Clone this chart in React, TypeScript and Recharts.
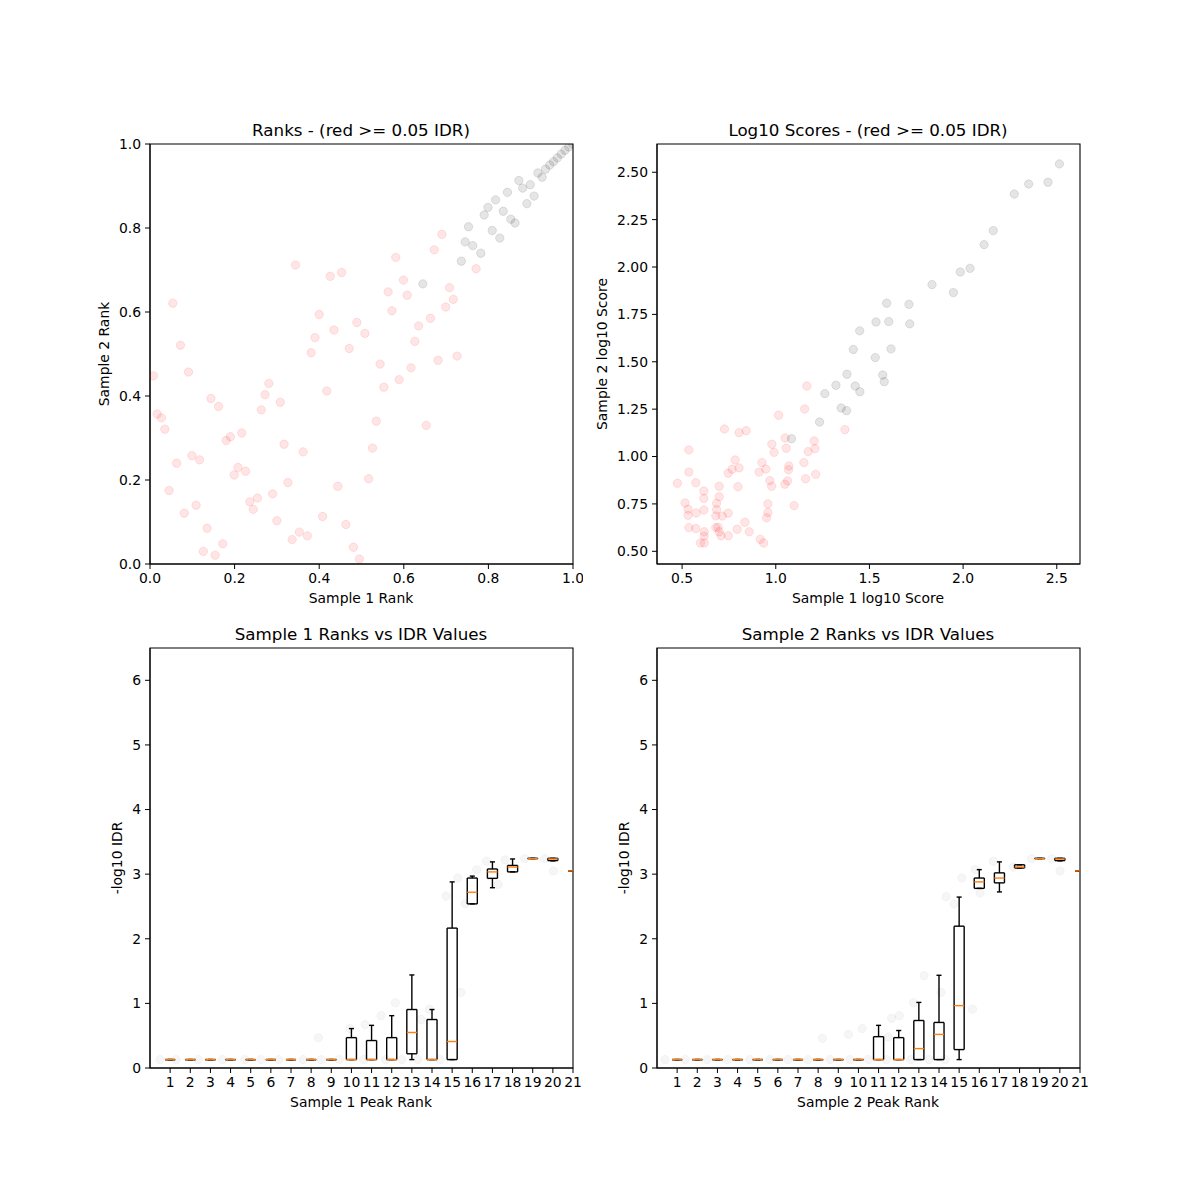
import React from 'react';
import { ComposedChart, Scatter, XAxis, YAxis, ReferenceLine, ReferenceArea } from 'recharts';

const FONT = '"DejaVu Sans", sans-serif';

// ---- top left: ranks ----
const rankTicks = [0, 0.2, 0.4, 0.6, 0.8, 1.0];
const rankRed: number[][] = [
  [0.008, 0.448], [0.017, 0.357], [0.027, 0.348], [0.035, 0.321], [0.045, 0.175], [0.054, 0.621],
  [0.063, 0.24], [0.072, 0.521], [0.081, 0.121], [0.091, 0.457], [0.099, 0.258], [0.109, 0.14],
  [0.117, 0.248], [0.126, 0.03], [0.135, 0.085], [0.144, 0.394], [0.154, 0.021], [0.162, 0.375],
  [0.172, 0.048], [0.18, 0.294], [0.19, 0.303], [0.199, 0.212], [0.208, 0.23], [0.217, 0.312],
  [0.226, 0.221], [0.236, 0.148], [0.244, 0.13], [0.254, 0.157], [0.263, 0.367], [0.272, 0.403],
  [0.281, 0.43], [0.29, 0.167], [0.3, 0.103], [0.308, 0.385], [0.317, 0.285], [0.326, 0.194],
  [0.336, 0.058], [0.344, 0.712], [0.353, 0.076], [0.362, 0.267], [0.372, 0.067], [0.381, 0.503],
  [0.39, 0.539], [0.4, 0.594], [0.408, 0.113], [0.418, 0.412], [0.426, 0.685], [0.435, 0.557],
  [0.444, 0.185], [0.453, 0.694], [0.463, 0.094], [0.471, 0.513], [0.481, 0.04], [0.489, 0.575],
  [0.495, 0.012], [0.508, 0.549], [0.517, 0.203], [0.526, 0.276], [0.535, 0.34], [0.544, 0.476],
  [0.553, 0.421], [0.563, 0.648], [0.572, 0.603], [0.581, 0.73], [0.589, 0.439], [0.599, 0.676],
  [0.608, 0.64], [0.617, 0.467], [0.626, 0.53], [0.635, 0.567], [0.653, 0.33], [0.663, 0.585],
  [0.672, 0.748], [0.681, 0.485], [0.69, 0.785], [0.699, 0.612], [0.708, 0.658], [0.717, 0.63],
  [0.726, 0.495], [0.771, 0.703],
];
const rankGrey: number[][] = [
  [0.645, 0.667], [0.736, 0.721], [0.745, 0.767], [0.753, 0.803], [0.763, 0.758], [0.782, 0.74],
  [0.79, 0.831], [0.799, 0.849], [0.809, 0.794], [0.817, 0.867], [0.827, 0.776], [0.835, 0.84],
  [0.845, 0.885], [0.853, 0.821], [0.863, 0.812], [0.872, 0.913], [0.881, 0.895], [0.891, 0.858],
  [0.899, 0.903], [0.908, 0.876], [0.917, 0.931], [0.927, 0.921], [0.935, 0.94], [0.945, 0.95],
  [0.954, 0.958], [0.963, 0.967], [0.972, 0.976], [0.981, 0.985], [0.99, 0.993], [0.999, 1.0],
];

// ---- top right: log10 scores ----
const scoreXDomain = [0.366, 2.624];
const scoreYDomain = [0.433, 2.649];
const scoreXTicks = [0.5, 1.0, 1.5, 2.0, 2.5];
const scoreYTicks = [0.5, 0.75, 1.0, 1.25, 1.5, 1.75, 2.0, 2.25, 2.5];
const scoreRed: number[][] = [
  [0.475, 0.859], [0.516, 0.755], [0.536, 1.035], [0.536, 0.918], [0.532, 0.722], [0.532, 0.69],
  [0.536, 0.625], [0.573, 0.862], [0.575, 0.702], [0.573, 0.62], [0.616, 0.818], [0.616, 0.779],
  [0.616, 0.718], [0.618, 0.603], [0.618, 0.58], [0.598, 0.544], [0.618, 0.544], [0.684, 0.753],
  [0.698, 0.843], [0.698, 0.788], [0.684, 0.72], [0.68, 0.687], [0.68, 0.625], [0.692, 0.627],
  [0.698, 0.603], [0.708, 0.582], [0.714, 0.686], [0.726, 1.145], [0.746, 0.912], [0.746, 0.701],
  [0.746, 0.582], [0.767, 0.933], [0.783, 0.982], [0.804, 0.94], [0.804, 1.126], [0.798, 0.841],
  [0.794, 0.616], [0.835, 0.653], [0.842, 1.136], [0.858, 0.603], [0.911, 0.918], [0.926, 0.968],
  [0.947, 0.934], [0.958, 0.75], [0.958, 0.705], [0.951, 0.677], [0.968, 0.873], [0.978, 0.843],
  [0.917, 0.563], [0.935, 0.544], [0.979, 1.065], [0.991, 1.022], [1.015, 1.218], [1.049, 0.854],
  [1.063, 0.871], [1.07, 0.95], [1.068, 0.93], [1.05, 1.098], [1.056, 1.044], [1.098, 0.741],
  [1.15, 0.968], [1.159, 0.883], [1.173, 1.026], [1.209, 1.042], [1.205, 1.082], [1.213, 0.906],
  [1.154, 1.251], [1.166, 1.372], [1.369, 1.142],
];
const scoreGrey: number[][] = [
  [1.084, 1.094], [1.234, 1.182], [1.262, 1.332], [1.321, 1.376], [1.349, 1.256], [1.378, 1.242],
  [1.38, 1.434], [1.414, 1.565], [1.424, 1.372], [1.449, 1.342], [1.448, 1.663], [1.531, 1.522],
  [1.535, 1.71], [1.571, 1.43], [1.579, 1.395], [1.592, 1.809], [1.603, 1.712], [1.615, 1.568],
  [1.711, 1.803], [1.715, 1.7], [1.834, 1.907], [1.948, 1.865], [1.985, 1.974], [2.037, 1.993],
  [2.112, 2.118], [2.161, 2.192], [2.273, 2.385], [2.35, 2.438], [2.453, 2.447], [2.514, 2.544],
];

// ---- bottom: -log10 IDR by peak rank bin ----
const peakRankTicks = [1, 2, 3, 4, 5, 6, 7, 8, 9, 10, 11, 12, 13, 14, 15, 16, 17, 18, 19, 20, 21];
const idrTicks = [0, 1, 2, 3, 4, 5, 6];
// [whisker low, q1, median, q3, whisker high] for bins 1..21
const sample1Boxes: number[][] = [
  [0.13, 0.13, 0.13, 0.13, 0.13], [0.13, 0.13, 0.13, 0.13, 0.13], [0.13, 0.13, 0.13, 0.13, 0.13],
  [0.13, 0.13, 0.13, 0.13, 0.13], [0.13, 0.13, 0.13, 0.13, 0.13], [0.13, 0.13, 0.13, 0.13, 0.13],
  [0.13, 0.13, 0.13, 0.13, 0.13], [0.13, 0.13, 0.13, 0.13, 0.13], [0.13, 0.13, 0.13, 0.13, 0.13],
  [0.13, 0.13, 0.13, 0.47, 0.61], [0.13, 0.13, 0.13, 0.425, 0.66], [0.13, 0.13, 0.13, 0.47, 0.81],
  [0.13, 0.22, 0.55, 0.905, 1.44], [0.13, 0.13, 0.13, 0.75, 0.905], [0.13, 0.13, 0.41, 2.165, 2.88],
  [2.54, 2.54, 2.72, 2.94, 2.97], [2.79, 2.935, 3.035, 3.08, 3.19], [3.035, 3.035, 3.11, 3.135, 3.235],
  [3.24, 3.24, 3.24, 3.245, 3.245], [3.205, 3.21, 3.235, 3.245, 3.245], [3.05, 3.05, 3.05, 3.05, 3.05],
];
const sample2Boxes: number[][] = [
  [0.13, 0.13, 0.13, 0.13, 0.13], [0.13, 0.13, 0.13, 0.13, 0.13], [0.13, 0.13, 0.13, 0.13, 0.13],
  [0.13, 0.13, 0.13, 0.13, 0.13], [0.13, 0.13, 0.13, 0.13, 0.13], [0.13, 0.13, 0.13, 0.13, 0.13],
  [0.13, 0.13, 0.13, 0.13, 0.13], [0.13, 0.13, 0.13, 0.13, 0.13], [0.13, 0.13, 0.13, 0.13, 0.13],
  [0.13, 0.13, 0.13, 0.13, 0.13], [0.13, 0.13, 0.13, 0.485, 0.66], [0.13, 0.13, 0.13, 0.47, 0.58],
  [0.13, 0.13, 0.3, 0.735, 1.015], [0.13, 0.13, 0.52, 0.705, 1.435], [0.13, 0.285, 0.965, 2.195, 2.645],
  [2.78, 2.78, 2.88, 2.94, 3.07], [2.725, 2.865, 2.94, 3.02, 3.19], [3.095, 3.095, 3.11, 3.145, 3.145],
  [3.24, 3.24, 3.24, 3.245, 3.245], [3.205, 3.21, 3.235, 3.245, 3.245], [3.05, 3.05, 3.05, 3.05, 3.05],
];
// faint jittered points behind the boxes
const sample1Faint: number[][] = [
  [0.5, 0.13], [1.3, 0.13], [2.4, 0.13], [3.6, 0.13], [4.7, 0.13], [5.5, 0.13], [6.4, 0.13],
  [7.6, 0.13], [8.5, 0.13], [9.4, 0.13], [10.6, 0.13], [11.7, 0.13], [12.5, 0.13], [13.3, 0.13],
  [14.4, 0.13], [8.36, 0.47], [9.93, 0.61], [10.68, 0.67], [11.47, 0.81], [12.18, 1.01], [13.46, 0.75],
  [13.87, 0.91], [15.44, 1.17], [14.7, 2.66], [15.28, 2.94], [15.65, 2.54], [16.22, 3.07], [16.71, 3.2],
  [17.29, 2.84], [17.63, 3.22], [18.6, 3.24], [19.6, 3.24], [20.03, 3.05],
];
const sample2Faint: number[][] = [
  [0.4, 0.13], [1.4, 0.13], [2.5, 0.13], [3.5, 0.13], [4.6, 0.13], [5.6, 0.13], [6.5, 0.13],
  [7.5, 0.13], [8.6, 0.13], [9.6, 0.13], [10.5, 0.13], [11.4, 0.13], [12.6, 0.13], [13.5, 0.13],
  [14.3, 0.13], [8.21, 0.46], [9.5, 0.52], [10.19, 0.61], [11.48, 0.48], [11.65, 0.77], [12.03, 0.81],
  [12.73, 1.01], [13.26, 1.43], [14.1, 1.17], [14.35, 2.65], [14.75, 2.54], [15.13, 2.94], [15.66, 0.91],
  [16.04, 2.71], [15.8, 3.07], [16.7, 3.2], [17.69, 3.11], [18.6, 3.24], [19.6, 3.24], [20.01, 3.05],
];

const PLOT_W = 423;
const PLOT_H = 420;
const Y_AXIS_W = 60;
const X_AXIS_H = 30;
const PAD = 10;

const pts = (a: number[][]) => a.map(([x, y]) => ({ x, y }));

const dot = (color: string, alpha: number) => (p: any) => (
  <circle
    cx={p.cx}
    cy={p.cy}
    r={4.2}
    fill={color}
    fillOpacity={alpha}
    stroke={color}
    strokeOpacity={alpha}
    strokeWidth={1}
  />
);

const axisProps = {
  stroke: '#000',
  tick: { fill: '#000', fontSize: 13.9, fontFamily: FONT },
  tickLine: { stroke: '#000' },
  tickSize: 5,
  tickMargin: 4,
  interval: 0 as const,
  allowDataOverflow: true,
};

const seg = (key: string, x1: number, y1: number, x2: number, y2: number, color = '#000') => (
  <ReferenceLine
    key={key}
    segment={[{ x: x1, y: y1 }, { x: x2, y: y2 }]}
    stroke={color}
    strokeWidth={1.4}
    ifOverflow="hidden"
  />
);

function boxMarks(stats: number[][], prefix: string) {
  const out: React.ReactNode[] = [];
  stats.forEach(([lo, q1, med, q3, hi], i) => {
    const p = i + 1;
    const k = `${prefix}-${p}`;
    out.push(seg(`${k}-wl`, p, lo, p, q1));
    out.push(seg(`${k}-wh`, p, q3, p, hi));
    out.push(seg(`${k}-cl`, p - 0.125, lo, p + 0.125, lo));
    out.push(seg(`${k}-ch`, p - 0.125, hi, p + 0.125, hi));
    out.push(seg(`${k}-b`, p - 0.25, q1, p + 0.25, q1));
    out.push(seg(`${k}-t`, p - 0.25, q3, p + 0.25, q3));
    out.push(seg(`${k}-l`, p - 0.25, q1, p - 0.25, q3));
    out.push(seg(`${k}-r`, p + 0.25, q1, p + 0.25, q3));
    out.push(seg(`${k}-m`, p - 0.25, med, p + 0.25, med, '#ff7f0e'));
  });
  return out;
}

const textAt = (cx: number, cy: number, size: number, rotate = false): React.CSSProperties => ({
  position: 'absolute',
  left: cx,
  top: cy,
  transform: `translate(-50%, -50%)${rotate ? ' rotate(-90deg)' : ''}`,
  fontFamily: FONT,
  fontSize: size,
  color: '#000',
  whiteSpace: 'nowrap',
  lineHeight: 1,
});

const chartBox = (plotLeft: number, plotTop: number): React.CSSProperties => ({
  position: 'absolute',
  left: plotLeft - Y_AXIS_W,
  top: plotTop - PAD,
});

const chartSize = {
  width: PLOT_W + Y_AXIS_W + PAD,
  height: PLOT_H + PAD + X_AXIS_H,
  margin: { top: PAD, right: PAD, bottom: 0, left: 0 },
};

const fmt1 = (v: number) => v.toFixed(1);
const fmt2 = (v: number) => v.toFixed(2);

export default function App() {
  return (
    <div style={{ position: 'absolute', left: 0, top: 0, width: 1200, height: 1200, background: '#fff' }}>
      {/* Ranks */}
      <div style={chartBox(150, 144)}>
        <ComposedChart {...chartSize}>
          <XAxis type="number" dataKey="x" domain={[0, 1]} ticks={rankTicks} tickFormatter={fmt1} height={X_AXIS_H} {...axisProps} />
          <YAxis type="number" dataKey="y" domain={[0, 1]} ticks={rankTicks} tickFormatter={fmt1} width={Y_AXIS_W} {...axisProps} />
          <Scatter data={pts(rankRed)} shape={dot('#ff0000', 0.1)} isAnimationActive={false} />
          <Scatter data={pts(rankGrey)} shape={dot('#000000', 0.1)} isAnimationActive={false} />
          <ReferenceArea x1={0} x2={1} y1={0} y2={1} fill="none" stroke="#000" strokeWidth={1.1} ifOverflow="visible" />
        </ComposedChart>
      </div>

      {/* Log10 scores */}
      <div style={chartBox(657, 144)}>
        <ComposedChart {...chartSize}>
          <XAxis type="number" dataKey="x" domain={scoreXDomain} ticks={scoreXTicks} tickFormatter={fmt1} height={X_AXIS_H} {...axisProps} />
          <YAxis type="number" dataKey="y" domain={scoreYDomain} ticks={scoreYTicks} tickFormatter={fmt2} width={Y_AXIS_W} {...axisProps} />
          <Scatter data={pts(scoreRed)} shape={dot('#ff0000', 0.1)} isAnimationActive={false} />
          <Scatter data={pts(scoreGrey)} shape={dot('#000000', 0.1)} isAnimationActive={false} />
          <ReferenceArea x1={scoreXDomain[0]} x2={scoreXDomain[1]} y1={scoreYDomain[0]} y2={scoreYDomain[1]} fill="none" stroke="#000" strokeWidth={1.1} ifOverflow="visible" />
        </ComposedChart>
      </div>

      {/* Sample 1 peak ranks */}
      <div style={chartBox(150, 648)}>
        <ComposedChart {...chartSize}>
          <XAxis type="number" dataKey="x" domain={[0, 21]} ticks={peakRankTicks} height={X_AXIS_H} {...axisProps} />
          <YAxis type="number" dataKey="y" domain={[0, 6.5]} ticks={idrTicks} width={Y_AXIS_W} {...axisProps} />
          <Scatter data={pts(sample1Faint)} shape={dot('#000000', 0.035)} isAnimationActive={false} />
          {boxMarks(sample1Boxes, 's1')}
          <ReferenceArea x1={0} x2={21} y1={0} y2={6.5} fill="none" stroke="#000" strokeWidth={1.1} ifOverflow="visible" />
        </ComposedChart>
      </div>

      {/* Sample 2 peak ranks */}
      <div style={chartBox(657, 648)}>
        <ComposedChart {...chartSize}>
          <XAxis type="number" dataKey="x" domain={[0, 21]} ticks={peakRankTicks} height={X_AXIS_H} {...axisProps} />
          <YAxis type="number" dataKey="y" domain={[0, 6.5]} ticks={idrTicks} width={Y_AXIS_W} {...axisProps} />
          <Scatter data={pts(sample2Faint)} shape={dot('#000000', 0.035)} isAnimationActive={false} />
          {boxMarks(sample2Boxes, 's2')}
          <ReferenceArea x1={0} x2={21} y1={0} y2={6.5} fill="none" stroke="#000" strokeWidth={1.1} ifOverflow="visible" />
        </ComposedChart>
      </div>

      <div style={textAt(361, 130, 16.7)}>Ranks - (red &gt;= 0.05 IDR)</div>
      <div style={textAt(361, 599, 13.9)}>Sample 1 Rank</div>
      <div style={textAt(105, 354, 13.9, true)}>Sample 2 Rank</div>

      <div style={textAt(868, 130, 16.7)}>Log10 Scores - (red &gt;= 0.05 IDR)</div>
      <div style={textAt(868, 599, 13.9)}>Sample 1 log10 Score</div>
      <div style={textAt(603, 354, 13.9, true)}>Sample 2 log10 Score</div>

      <div style={textAt(361, 634, 16.7)}>Sample 1 Ranks vs IDR Values</div>
      <div style={textAt(361, 1103, 13.9)}>Sample 1 Peak Rank</div>
      <div style={textAt(118, 858, 13.9, true)}>-log10 IDR</div>

      <div style={textAt(868, 634, 16.7)}>Sample 2 Ranks vs IDR Values</div>
      <div style={textAt(868, 1103, 13.9)}>Sample 2 Peak Rank</div>
      <div style={textAt(625, 858, 13.9, true)}>-log10 IDR</div>
    </div>
  );
}
